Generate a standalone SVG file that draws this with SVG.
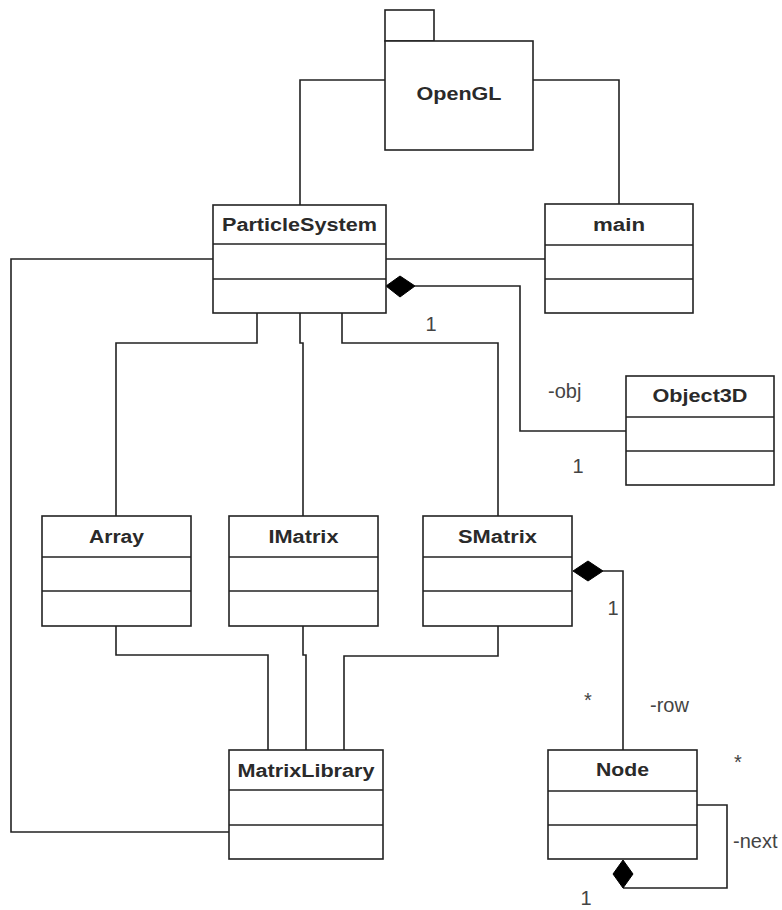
<svg xmlns="http://www.w3.org/2000/svg" width="782" height="910" viewBox="0 0 782 910">
<style>
.box{fill:#fff;stroke:#222;stroke-width:1.6}
.div{stroke:#222;stroke-width:1.6}
.title{font-family:"Liberation Sans",Arial,sans-serif;font-weight:bold;font-size:18px;fill:#2a2a2a;text-anchor:middle}
.lbl{font-family:"Liberation Sans",Arial,sans-serif;font-size:20px;fill:#444}
.conn path{fill:none;stroke:#222;stroke-width:1.6}
.dia{fill:#000;stroke:#000;stroke-width:1}
</style>
<rect width="782" height="910" fill="#fff"/>
<g id="connectors" class="conn">
<path d="M385,80 H300 V205"/>
<path d="M533,80 H619 V204"/>
<path d="M386,259 H545"/>
<path d="M213,259 H11 V832 H229"/>
<path d="M415,286 H520 V431 H626"/>
<path d="M257,313 V343 H116 V516"/>
<path d="M300,313 V343 H303 V516"/>
<path d="M342,313 V343 H498 V516"/>
<path d="M116,626 V655 H268 V750"/>
<path d="M303,626 V655 H306 V750"/>
<path d="M498,626 V656 H344 V750"/>
<path d="M603,571 H623 V750"/>
<path d="M697,805 H727 V888 H623"/>
<polygon class="dia" points="386,286 400,276 415,286 400,297"/>
<polygon class="dia" points="573,571 588,561 603,571 588,581"/>
<polygon class="dia" points="623,860 633,874 623,888 613,874"/>
</g>
<g id="OpenGL">
<rect class="box" x="385" y="10" width="49" height="31"/>
<rect class="box" x="385" y="41" width="148" height="109"/>
<text class="title" x="459" y="100" textLength="85" lengthAdjust="spacingAndGlyphs">OpenGL</text>
</g>
<g id="ParticleSystem">
<rect class="box" x="213" y="205" width="173" height="108"/>
<line class="div" x1="213" y1="244" x2="386" y2="244"/>
<line class="div" x1="213" y1="279" x2="386" y2="279"/>
<text class="title" x="299.5" y="231" textLength="155" lengthAdjust="spacingAndGlyphs">ParticleSystem</text>
</g>
<g id="main">
<rect class="box" x="545" y="204" width="148" height="109"/>
<line class="div" x1="545" y1="245" x2="693" y2="245"/>
<line class="div" x1="545" y1="279" x2="693" y2="279"/>
<text class="title" x="619" y="231" textLength="52" lengthAdjust="spacingAndGlyphs">main</text>
</g>
<g id="Object3D">
<rect class="box" x="626" y="376" width="148" height="109"/>
<line class="div" x1="626" y1="417" x2="774" y2="417"/>
<line class="div" x1="626" y1="451" x2="774" y2="451"/>
<text class="title" x="700" y="402" textLength="95" lengthAdjust="spacingAndGlyphs">Object3D</text>
</g>
<g id="Array">
<rect class="box" x="42" y="516" width="149" height="110"/>
<line class="div" x1="42" y1="557" x2="191" y2="557"/>
<line class="div" x1="42" y1="591" x2="191" y2="591"/>
<text class="title" x="116.5" y="543" textLength="55" lengthAdjust="spacingAndGlyphs">Array</text>
</g>
<g id="IMatrix">
<rect class="box" x="229" y="516" width="149" height="110"/>
<line class="div" x1="229" y1="557" x2="378" y2="557"/>
<line class="div" x1="229" y1="591" x2="378" y2="591"/>
<text class="title" x="303.5" y="543" textLength="70" lengthAdjust="spacingAndGlyphs">IMatrix</text>
</g>
<g id="SMatrix">
<rect class="box" x="423" y="516" width="149" height="110"/>
<line class="div" x1="423" y1="557" x2="572" y2="557"/>
<line class="div" x1="423" y1="591" x2="572" y2="591"/>
<text class="title" x="497.5" y="543" textLength="79" lengthAdjust="spacingAndGlyphs">SMatrix</text>
</g>
<g id="MatrixLibrary">
<rect class="box" x="229" y="750" width="154" height="109"/>
<line class="div" x1="229" y1="790" x2="383" y2="790"/>
<line class="div" x1="229" y1="825" x2="383" y2="825"/>
<text class="title" x="306" y="777" textLength="137" lengthAdjust="spacingAndGlyphs">MatrixLibrary</text>
</g>
<g id="Node">
<rect class="box" x="548" y="750" width="149" height="109"/>
<line class="div" x1="548" y1="791" x2="697" y2="791"/>
<line class="div" x1="548" y1="825" x2="697" y2="825"/>
<text class="title" x="622.5" y="776" textLength="53" lengthAdjust="spacingAndGlyphs">Node</text>
</g>
<g id="labels">
<text class="lbl" x="431" y="331" text-anchor="middle">1</text>
<text class="lbl" x="548" y="398">-obj</text>
<text class="lbl" x="578" y="473" text-anchor="middle">1</text>
<text class="lbl" x="613" y="615" text-anchor="middle">1</text>
<text class="lbl" x="588" y="707" text-anchor="middle">*</text>
<text class="lbl" x="650" y="712">-row</text>
<text class="lbl" x="738" y="769" text-anchor="middle">*</text>
<text class="lbl" x="733" y="848">-next</text>
<text class="lbl" x="586" y="905" text-anchor="middle">1</text>
</g>
</svg>
